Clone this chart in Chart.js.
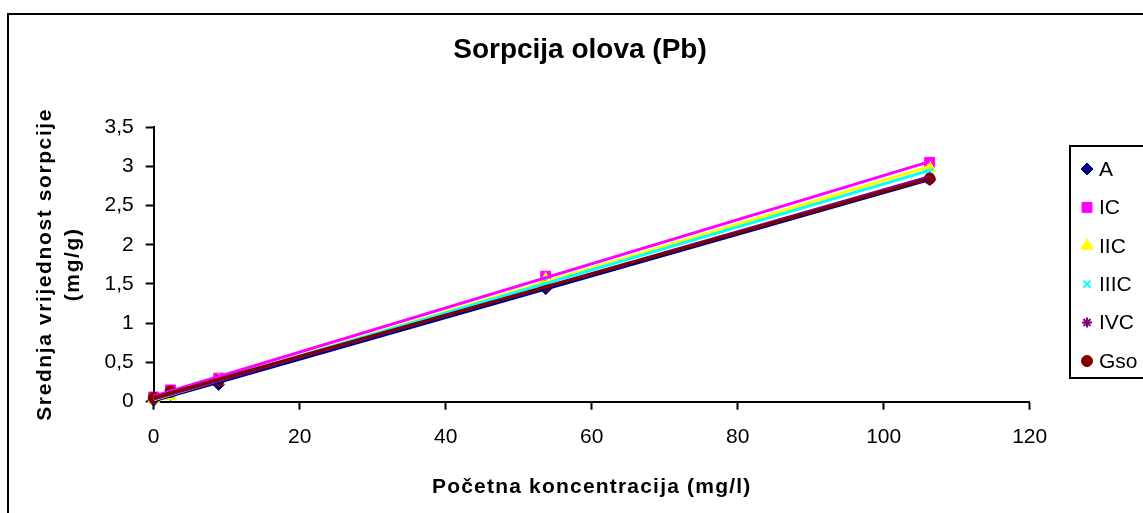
<!DOCTYPE html>
<html><head><meta charset="utf-8">
<script src="https://cdn.jsdelivr.net/npm/chart.js@4/dist/chart.umd.min.js"></script>
<style>html,body{margin:0;padding:0;background:#fff;overflow:hidden}canvas{display:block}</style>
</head><body>
<canvas id="c" width="1143" height="513"></canvas>
<script>
const chartTitle = 'Sorpcija olova (Pb)';
const xAxisTitle = 'Početna koncentracija (mg/l)';
const yAxisTitle = ['Srednja vrijednost sorpcije', '(mg/g)'];
const seriesNames = ['A', 'IC', 'IIC', 'IIIC', 'IVC', 'Gso'];
const concentrations = [0, 2.3, 8.9, 53.7, 106.3];
const valuesA    = [0.02, 0.09, 0.22, 1.44, 2.83];
const valuesIC   = [0.06, 0.15, 0.30, 1.60, 3.05];
const valuesIIC  = [0.03, 0.07, 0.27, 1.56, 2.98];
const valuesIIIC = [0.03, 0.09, 0.27, 1.54, 2.93];
const valuesIVC  = [0.03, 0.11, 0.25, 1.48, 2.86];
const valuesGso  = [0.05, 0.13, 0.27, 1.47, 2.84];
const xTickLabels = ['0', '20', '40', '60', '80', '100', '120'];
const yTickLabels = ['0', '0,5', '1', '1,5', '2', '2,5', '3', '3,5'];

const FONT = '"Liberation Sans", Arial, sans-serif';
const allValues = [valuesA, valuesIC, valuesIIC, valuesIIIC, valuesIVC, valuesGso];
const styles = [
  {color: '#000080', pointStyle: 'rectRot', radius: 6, bw: 1},
  {color: '#FF00FF', pointStyle: 'rect', radius: 7, bw: 1},
  {color: '#FFFF00', pointStyle: 'triangle', radius: 7, bw: 1},
  {color: '#00FFFF', pointStyle: 'crossRot', radius: 5, bw: 2},
  {color: '#800080', pointStyle: 'star', radius: 5, bw: 2},
  {color: '#800000', pointStyle: 'circle', radius: 5.5, bw: 1}
];

function linReg(xs, ys) {
  const n = xs.length;
  const mx = xs.reduce((a, b) => a + b, 0) / n;
  const my = ys.reduce((a, b) => a + b, 0) / n;
  let sxy = 0, sxx = 0;
  for (let i = 0; i < n; i++) { sxy += (xs[i] - mx) * (ys[i] - my); sxx += (xs[i] - mx) ** 2; }
  const b = sxy / sxx; const a = my - b * mx;
  const x0 = Math.min(...xs), x1 = Math.max(...xs);
  return [{x: x0, y: a + b * x0}, {x: x1, y: a + b * x1}];
}

const datasets = [];
seriesNames.forEach((name, i) => {
  const st = styles[i];
  datasets.push({
    label: name,
    isMarker: true,
    data: concentrations.map((x, j) => ({x: x, y: allValues[i][j]})),
    showLine: false,
    pointStyle: st.pointStyle,
    pointRadius: st.radius,
    pointBorderWidth: st.bw,
    backgroundColor: st.color,
    borderColor: st.color,
    clip: false,
    order: 20 - i
  });
});
seriesNames.forEach((name, i) => {
  const st = styles[i];
  datasets.push({
    label: name + ' trend',
    data: linReg(concentrations, allValues[i]),
    showLine: true,
    pointRadius: 0,
    borderWidth: 3,
    borderColor: st.color,
    backgroundColor: st.color,
    clip: false,
    order: 10 - i
  });
});

const deco = {
  id: 'deco',
  beforeDraw(chart) {
    Object.values(chart.scales).forEach(s => {
      if (!s._ls) {
        const orig = s.drawTitle;
        const sp = s.axis === 'y' ? '1.6px' : '1.2px';
        s.drawTitle = function () {
          const c = this.ctx; c.save(); c.letterSpacing = sp; orig.call(this); c.restore();
        };
        s._ls = true;
      }
    });
  },
  afterDraw(chart) {
    const ctx = chart.ctx;
    ctx.save();
    ctx.fillStyle = '#000';
    ctx.font = 'bold 28px ' + FONT;
    ctx.textAlign = 'center';
    ctx.textBaseline = 'middle';
    ctx.fillText(chartTitle, 580, 50);
    ctx.lineWidth = 2;
    ctx.strokeStyle = '#000';
    ctx.fillStyle = '#fff';
    ctx.fillRect(1070, 146, 200, 232);
    ctx.strokeRect(1070, 146, 200, 232);
    const markers = chart.data.datasets.filter(d => d.isMarker);
    markers.forEach((d, i) => {
      const y = 169 + i * 38.4;
      ctx.fillStyle = d.backgroundColor;
      ctx.strokeStyle = d.borderColor;
      ctx.lineWidth = d.pointBorderWidth;
      Chart.helpers.drawPoint(ctx, {pointStyle: d.pointStyle, radius: d.pointRadius, borderWidth: d.pointBorderWidth, rotation: 0}, 1087, y);
      ctx.fillStyle = '#000';
      ctx.font = '21px ' + FONT;
      ctx.textAlign = 'left';
      ctx.textBaseline = 'middle';
      ctx.fillText(d.label, 1099, y + 1);
    });
    ctx.lineWidth = 2;
    ctx.strokeStyle = '#000';
    ctx.strokeRect(8, 14, 3000, 3000);
    ctx.restore();
  }
};

new Chart(document.getElementById('c'), {
  type: 'scatter',
  data: {datasets: datasets},
  plugins: [deco],
  options: {
    responsive: false,
    animation: false,
    devicePixelRatio: 1,
    layout: {padding: {left: 0, top: 127, right: 113.3, bottom: 0}},
    plugins: {legend: {display: false}, title: {display: false}, tooltip: {enabled: false}},
    scales: {
      x: {
        type: 'linear', min: 0, max: 120,
        ticks: {stepSize: 20, color: '#000', font: {family: FONT, size: 21}, padding: 15, maxRotation: 0, autoSkip: false,
          callback: (v, i) => xTickLabels[i]},
        grid: {drawOnChartArea: false, tickLength: 8, tickWidth: 2, color: '#000', tickColor: '#000'},
        border: {color: '#000', width: 2},
        title: {display: true, text: xAxisTitle, color: '#000', font: {family: FONT, size: 21, weight: 'bold'}, padding: {top: 0, bottom: 13}},
        afterFit(s) { s.height = 111.3; }
      },
      y: {
        type: 'linear', min: 0, max: 3.5,
        ticks: {stepSize: 0.5, color: '#000', font: {family: FONT, size: 21}, padding: 12, autoSkip: false,
          callback: (v, i) => yTickLabels[i]},
        grid: {drawOnChartArea: false, tickLength: 8, tickWidth: 2, color: '#000', tickColor: '#000'},
        border: {color: '#000', width: 2},
        title: {display: true, text: yAxisTitle, color: '#000', font: {family: FONT, size: 21, weight: 'bold', lineHeight: 1.3}, padding: {top: 32, bottom: 0}},
        afterFit(s) { s.width = 153.7; }
      }
    }
  }
});
</script>
</body></html>
